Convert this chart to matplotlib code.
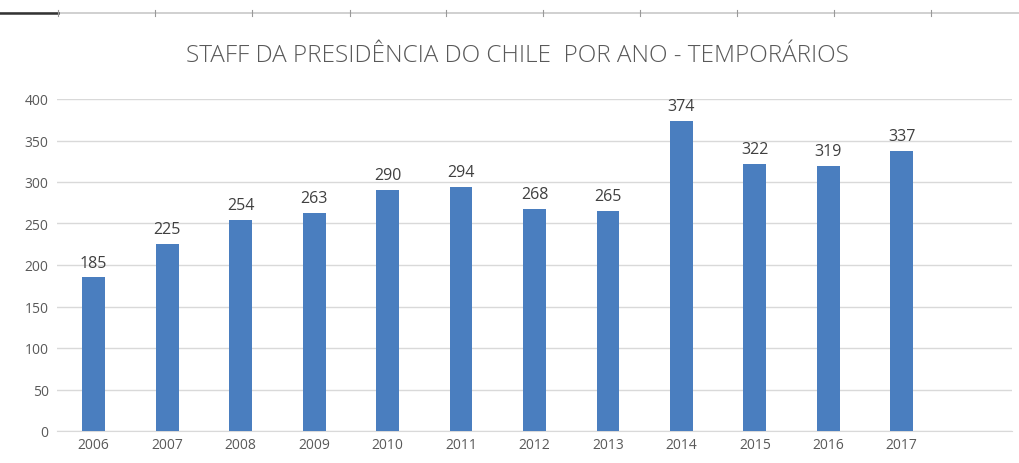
import matplotlib
matplotlib.use("Agg")
import matplotlib.pyplot as plt
from matplotlib.lines import Line2D

years = ["2006", "2007", "2008", "2009", "2010", "2011", "2012", "2013",
         "2014", "2015", "2016", "2017"]
values = [185, 225, 254, 263, 290, 294, 268, 265, 374, 322, 319, 337]
yticks = [0, 50, 100, 150, 200, 250, 300, 350, 400]
title = "STAFF DA PRESIDÊNCIA DO CHILE  POR ANO - TEMPORÁRIOS"

plt.rcParams['font.family'] = ['Open Sans', 'DejaVu Sans']

fig = plt.figure(figsize=(10.2, 4.64), dpi=100)
ax = fig.add_axes([57/1020, 1-432/464, (1012-57)/1020, (432-100)/464])

x = list(range(len(years)))
ax.bar(x, values, width=0.31, color="#4A7EBF", zorder=3)
for xi, v in zip(x, values):
    ax.annotate(str(v), (xi, v), xytext=(0, 5), textcoords="offset points",
                ha="center", va="bottom", fontsize=11.5, color="#404040")

ax.set_xlim(-0.5, len(years) + 0.5)
ax.set_ylim(0, 400)
ax.set_yticks(yticks)
ax.set_xticks(x)
ax.set_xticklabels(years)
ax.tick_params(axis="both", length=0, labelsize=10, labelcolor="#595959")
ax.tick_params(axis="y", pad=6)
ax.tick_params(axis="x", pad=4)
ax.grid(axis="y", color="#D9D9D9", linewidth=1, zorder=0)
for s in ["left", "right", "top"]:
    ax.spines[s].set_visible(False)
ax.spines["bottom"].set_color("#D9D9D9")

fig.text(517/1020, 1-56/464, title, ha="center", va="center",
         fontsize=17.5, color="#595959", fontweight="light")

# spreadsheet header edge at top
yl = 1 - 14/464
fig.add_artist(Line2D([0, 1], [yl, yl], color="#C8C8C8", linewidth=1.2,
                      transform=fig.transFigure))
fig.add_artist(Line2D([0, 58/1020], [yl, yl], color="#333333", linewidth=1.8,
                      transform=fig.transFigure))
for tx in [58, 155, 252, 350, 446, 543, 640, 737, 834, 931]:
    fig.add_artist(Line2D([tx/1020, tx/1020], [yl - 3/464, yl + 3/464],
                          color="#999999", linewidth=0.8,
                          transform=fig.transFigure))

fig.savefig("out.png", dpi=100)
